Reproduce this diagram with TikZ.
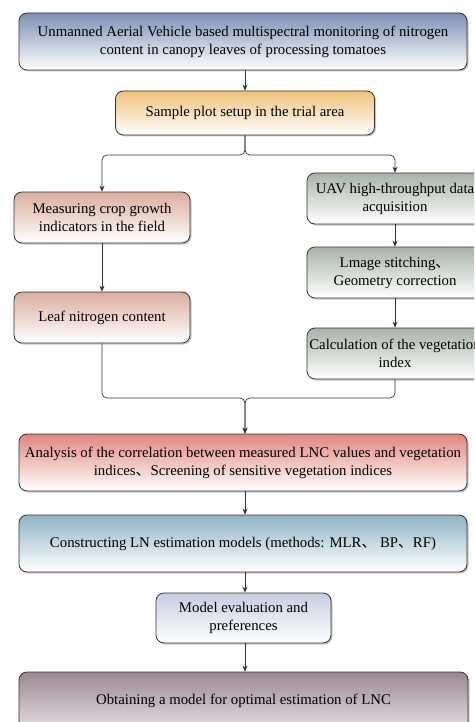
\documentclass[tikz,border=0pt]{standalone}
\usepackage{fontspec}
\setmainfont{Liberation Serif}
\newfontfamily\cjk{Noto Sans CJK SC}
\newcommand{\dun}{{\cjk 、}}
\usetikzlibrary{arrows.meta,shadows}

\definecolor{topblue}{HTML}{7D8FB5}
\definecolor{toporange}{HTML}{EEC27A}
\definecolor{toprose}{HTML}{D9AE9E}
\definecolor{topsage}{HTML}{A9B3A9}
\definecolor{topred}{HTML}{E0867E}
\definecolor{topteal}{HTML}{8FB4C4}
\definecolor{toplav}{HTML}{C8CCE0}
\definecolor{topmauve}{HTML}{9A8890}
\definecolor{botmauve}{HTML}{E2DEE2}
\definecolor{edge}{HTML}{333333}

\begin{document}
\begin{tikzpicture}[x=1pt,y=1pt,>={Stealth[length=6pt,width=5pt]},
  flowbox/.style={draw=edge,line width=0.8pt,rounded corners=8pt,align=center,
    inner sep=2pt,font=\fontsize{14.8}{18}\selectfont,
    drop shadow={shadow xshift=1.5pt,shadow yshift=-1.5pt,opacity=0.45}},
  wide/.style={flowbox,minimum width=448pt,minimum height=57pt},
  side/.style={flowbox,minimum width=176pt,minimum height=51pt},
  link/.style={->,draw=edge,line width=0.7pt}]
  \useasboundingbox (0,0) rectangle (474,-722);
  \clip (0,0) rectangle (474,-722);

  % main column
  \node[wide,top color=topblue,bottom color=white] (aim) at (243,-41.5)
    {Unmanned Aerial Vehicle based multispectral monitoring of nitrogen\\content in canopy leaves of processing tomatoes};
  \node[flowbox,minimum width=259pt,minimum height=44pt,top color=toporange,bottom color=white] (plot) at (245,-113)
    {Sample plot setup in the trial area};

  % ground branch
  \node[side,top color=toprose,bottom color=white] (field) at (102,-217.5)
    {Measuring crop growth\\indicators in the field};
  \node[side,top color=toprose,bottom color=white] (lnc) at (102,-317.5)
    {Leaf nitrogen content};

  % UAV branch
  \node[side,top color=topsage,bottom color=white] (uav) at (395,-198.5)
    {UAV high-throughput data\\acquisition};
  \node[side,top color=topsage,bottom color=white] (stitch) at (395,-272.5)
    {Lmage stitching\dun\\Geometry correction};
  \node[side,top color=topsage,bottom color=white] (vi) at (395,-353.5)
    {Calculation of the vegetation\\index};

  \node[wide,top color=topred,bottom color=white] (corr) at (243,-462.5)
    {Analysis of the correlation between measured LNC values and vegetation\\indices\dun Screening of sensitive vegetation indices};
  \node[wide,top color=topteal,bottom color=white] (model) at (243,-543.5)
    {Constructing LN estimation models (methods: MLR\dun\ BP\dun RF)};
  \node[flowbox,minimum width=175pt,minimum height=50pt,top color=toplav,bottom color=white] (eval) at (243.5,-618)
    {Model evaluation and\\preferences};
  \node[wide,minimum width=449pt,top color=topmauve,bottom color=botmauve] (best) at (243.5,-700.5)
    {Obtaining a model for optimal estimation of LNC};

  \coordinate (split) at (245,-155);
  \coordinate (merge) at (245,-398);

  \draw[link] (aim.south -| plot.north) -- (plot.north);
  \draw[link,rounded corners=5pt] (plot.south) -- (split) -| (field.north);
  \draw[link,rounded corners=5pt] (plot.south) -- (split) -| (uav.north);
  \draw[link] (field) -- (lnc);
  \draw[link] (uav) -- (stitch);
  \draw[link] (stitch) -- (vi);
  \draw[link,rounded corners=5pt] (lnc.south) |- (merge) -- (merge |- corr.north);
  \draw[link,rounded corners=5pt] (vi.south) |- (merge) -- (merge |- corr.north);
  \draw[link] (corr.south -| merge) -- (merge |- model.north);
  \draw[link] (model.south -| merge) -- (merge |- eval.north);
  \draw[link] (eval.south -| merge) -- (merge |- best.north);
\end{tikzpicture}
\end{document}
